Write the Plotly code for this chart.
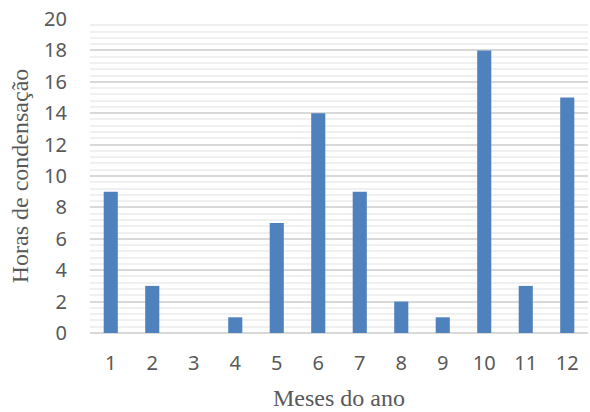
import plotly.graph_objects as go

# months and condensation hours
months = ["1", "2", "3", "4", "5", "6", "7", "8", "9", "10", "11", "12"]
hours = [9, 3, 0, 1, 7, 14, 9, 2, 1, 18, 3, 15]

y_ticks = list(range(0, 21, 2))

fig = go.Figure(
    go.Bar(
        x=months,
        y=hours,
        marker=dict(color="#4f81bd", line=dict(width=0)),
    )
)

fig.update_layout(
    width=590,
    height=412,
    margin=dict(l=90, r=2, t=19, b=79),
    paper_bgcolor="white",
    plot_bgcolor="white",
    bargap=0.66,
    showlegend=False,
    font=dict(family="Noto Sans", color="#595959", size=20),
)

fig.update_xaxes(
    automargin=False,
    showline=False,
    showgrid=False,
    ticks="",
    ticklabelstandoff=16,
    tickfont=dict(size=20),
    title=dict(
        text="Meses do ano",
        font=dict(family="Liberation Serif", size=24, color="#595959"),
        standoff=14,
    ),
)

fig.update_yaxes(
    automargin=False,
    range=[0, 20],
    tickvals=y_ticks,
    showgrid=True,
    gridcolor="#d9d9d9",
    gridwidth=2,
    zeroline=True,
    zerolinecolor="#d9d9d9",
    zerolinewidth=2,
    ticks="",
    ticklabelstandoff=22,
    tickfont=dict(size=20),
    minor=dict(showgrid=True, tick0=0, dtick=0.4, gridcolor="#f0f0f0", gridwidth=1.5),
    title=dict(
        text="Horas de condensação",
        font=dict(family="Liberation Serif", size=24, color="#595959"),
        standoff=8,
    ),
)

# drop the default 8px body margin so the figure fills the window
fig.write_html(
    "out.html",
    config={"displayModeBar": False},
    post_script="document.body.style.margin = '0';",
)
